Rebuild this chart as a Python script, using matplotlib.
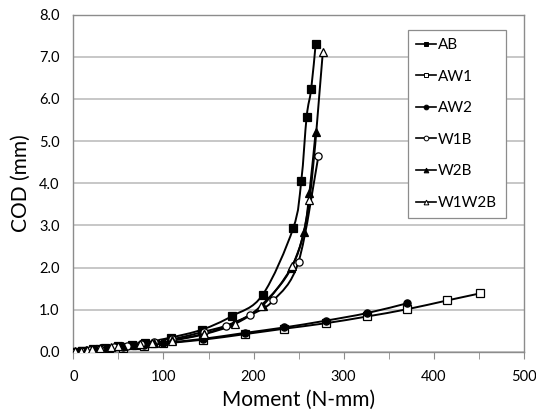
import numpy as np
import matplotlib
matplotlib.use("Agg")
import matplotlib.pyplot as plt
from matplotlib.path import Path
from matplotlib.patches import PathPatch
from matplotlib.lines import Line2D
from matplotlib.ticker import MultipleLocator, FormatStrFormatter

plt.rcParams['font.family'] = ['Lato', 'DejaVu Sans']

# moment (N-mm) vs COD (mm)
ab_x = [0, 10, 22, 35, 50, 65, 80, 108, 143, 176, 210, 244, 253, 259, 264, 269]
ab_y = [0, 0.03, 0.06, 0.09, 0.13, 0.17, 0.22, 0.34, 0.53, 0.85, 1.35, 2.93, 4.05, 5.58, 6.23, 7.30]

aw1_x = [0, 10, 30, 55, 78, 100, 144, 190, 234, 280, 326, 370, 415, 452]
aw1_y = [0, 0.02, 0.06, 0.10, 0.15, 0.20, 0.29, 0.42, 0.55, 0.68, 0.84, 1.01, 1.22, 1.39]

aw2_x = [0, 10, 30, 55, 78, 100, 144, 190, 234, 280, 326, 370]
aw2_y = [0, 0.02, 0.06, 0.11, 0.16, 0.21, 0.31, 0.45, 0.58, 0.74, 0.92, 1.15]

w1b_x = [0, 8, 18, 30, 45, 60, 75, 90, 110, 145, 169, 196, 222, 250, 272]
w1b_y = [0, 0.02, 0.05, 0.08, 0.12, 0.15, 0.19, 0.23, 0.30, 0.48, 0.62, 0.87, 1.22, 2.14, 4.64]

w2b_x = [0, 6, 14, 25, 40, 55, 70, 90, 110, 145, 178, 210, 242, 256, 262, 269]
w2b_y = [0, 0.02, 0.04, 0.07, 0.10, 0.14, 0.17, 0.22, 0.28, 0.43, 0.68, 1.10, 2.00, 2.85, 3.76, 5.22]

w1w2b_x = [0, 2, 8, 15, 21, 29, 42, 49, 74, 87, 110, 145, 179, 208, 243, 262, 277]
w1w2b_y = [0, 0.01, 0.03, 0.05, 0.07, 0.09, 0.12, 0.14, 0.19, 0.22, 0.27, 0.42, 0.66, 1.09, 2.04, 3.60, 7.12]

series = [
    ("AB", ab_x, ab_y, 's', 'black'),
    ("AW1", aw1_x, aw1_y, 's', 'white'),
    ("AW2", aw2_x, aw2_y, 'o', 'black'),
    ("W1B", w1b_x, w1b_y, 'o', 'white'),
    ("W2B", w2b_x, w2b_y, '^', 'black'),
    ("W1W2B", w1w2b_x, w1w2b_y, '^', 'white'),
]


def smooth_path(x, y):
    # Excel-style smoothed line: cubic bezier segments with catmull-rom tangents
    p = np.column_stack([x, y]).astype(float)
    n = len(p)
    verts = [p[0]]
    codes = [Path.MOVETO]
    for i in range(n - 1):
        p0 = p[i - 1] if i > 0 else p[i]
        p3 = p[i + 2] if i + 2 < n else p[i + 1]
        c1 = p[i] + (p[i + 1] - p0) / 6.0
        c2 = p[i + 1] - (p3 - p[i]) / 6.0
        verts += [c1, c2, p[i + 1]]
        codes += [Path.CURVE4] * 3
    return Path(verts, codes)


fig = plt.figure(figsize=(5.36, 4.15), dpi=100)
ax = fig.add_axes([0.137, 0.152, 0.840, 0.813])

handles = []
for name, x, y, mk, fc in series:
    ax.add_patch(PathPatch(smooth_path(x, y), fill=False, edgecolor='black',
                           lw=1.4, zorder=2))
    ax.plot(x, y, ls='none', marker=mk, ms=5.2, markerfacecolor=fc,
            markeredgecolor='black', markeredgewidth=0.9, zorder=3)
    handles.append(Line2D([], [], color='black', lw=1.2, marker=mk, ms=3.4,
                          markerfacecolor=fc, markeredgecolor='black',
                          markeredgewidth=0.7, label=name))

ax.set_xlim(0, 500)
ax.set_ylim(0, 8)
ax.xaxis.set_major_locator(MultipleLocator(100))
ax.xaxis.set_minor_locator(MultipleLocator(50))
ax.yaxis.set_major_locator(MultipleLocator(1))
ax.yaxis.set_major_formatter(FormatStrFormatter('%.1f'))
ax.grid(axis='y', color='#BEBEBE', lw=1.2)
ax.set_axisbelow(True)

for s in ax.spines.values():
    s.set_color('#8C8C8C')
    s.set_linewidth(1.0)

ax.tick_params(axis='x', which='both', direction='out', length=5, color='#8C8C8C',
               labelsize=10.5, pad=8)
ax.tick_params(axis='y', length=0, labelsize=10.5, pad=10)

ax.set_xlabel('Moment (N-mm)', fontsize=15, labelpad=4)
ax.set_ylabel('COD (mm)', fontsize=15, labelpad=6)

leg = ax.legend(handles=handles, loc='upper right', bbox_to_anchor=(0.96, 0.955),
                fontsize=11, handlelength=1.3, handletextpad=0.15,
                labelspacing=1.15, borderpad=0.55, borderaxespad=0,
                fancybox=False, framealpha=1)
leg.get_frame().set_edgecolor('#8C8C8C')
leg.get_frame().set_linewidth(0.9)

fig.savefig('out.png', dpi=100)
